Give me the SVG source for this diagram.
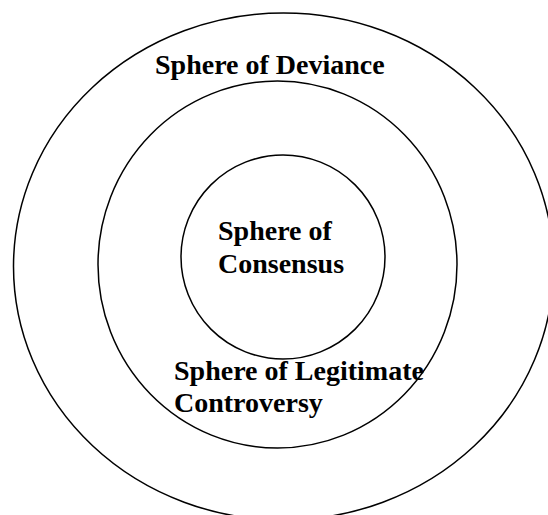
<svg xmlns="http://www.w3.org/2000/svg" width="548" height="515" viewBox="0 0 548 515">
<style>
.ring{fill:none;stroke:#000;stroke-width:1.5}
.lbl{font-family:"Liberation Serif","Times New Roman",serif;font-weight:bold;font-size:28px;fill:#000}
</style>
<rect width="548" height="515" fill="#fff"/>
<g id="deviance">
<ellipse class="ring" cx="283.5" cy="266.5" rx="270" ry="253.5"/>
<text class="lbl" x="155" y="74">Sphere of Deviance</text>
</g>
<g id="controversy">
<ellipse class="ring" cx="277.5" cy="264.5" rx="179.5" ry="183.5"/>
<text class="lbl" x="174" y="380">Sphere of Legitimate</text>
<text class="lbl" x="174" y="412">Controversy</text>
</g>
<g id="consensus">
<ellipse class="ring" cx="283" cy="257" rx="102" ry="102"/>
<text class="lbl" x="218" y="240">Sphere of</text>
<text class="lbl" x="218" y="273">Consensus</text>
</g>
<g id="connectors"/>
</svg>
